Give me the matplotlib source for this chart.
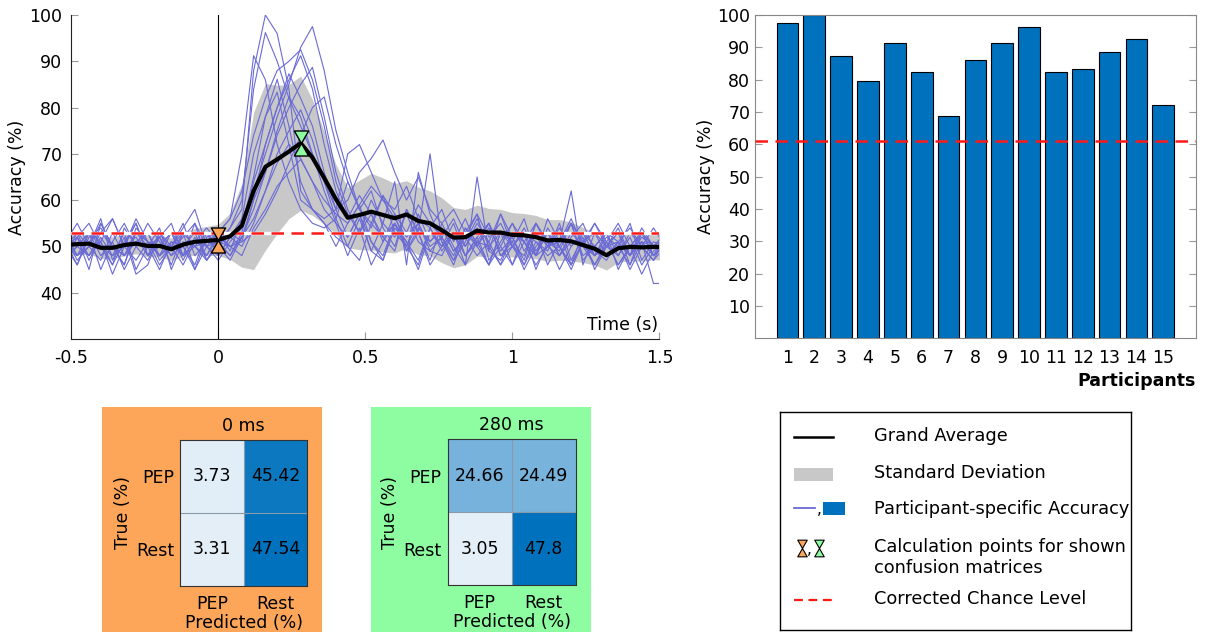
import matplotlib

matplotlib.use("Agg")

import matplotlib.pyplot as plt
import numpy as np
from matplotlib.colors import LinearSegmentedColormap
from matplotlib.patches import Rectangle
from matplotlib.path import Path


# time axis in ms (decoding windows every 40 ms)
TIME_MS = list(range(-520, 1521, 40))

GRAND_AVERAGE = [
    50.3, 50.5, 50.6, 49.7, 49.7, 50.3, 50.6, 50.1, 50.1, 49.4, 50.4, 51.0, 51.2,
    51.4, 52.2, 54.5, 62.0, 67.2, 68.8, 70.5, 72.3, 69.2, 64.8, 60.2, 56.2, 56.8,
    57.5, 56.8, 56.1, 56.9, 55.5, 55.0, 53.5, 51.9, 52.0, 53.4, 53.0, 53.0, 52.5,
    52.4, 52.0, 51.3, 51.4, 51.1, 50.3, 49.5, 48.1, 49.6, 49.9, 49.8, 49.9, 49.9,
]

STD_DEV = [
    2.4, 2.3, 2.2, 2.3, 2.4, 2.3, 2.2, 2.3, 2.4, 2.4, 2.6, 2.9, 3.1,
    3.4, 5.0, 9.0, 17.0, 18.0, 16.0, 14.5, 14.5, 12.5, 10.0, 7.5, 6.5, 7.5,
    8.3, 8.0, 7.5, 7.3, 7.3, 7.0, 7.0, 6.5, 6.0, 5.5, 5.2, 5.0, 4.8,
    4.7, 4.7, 4.5, 4.4, 4.2, 3.8, 3.5, 3.2, 3.0, 3.0, 3.0, 2.8, 2.8,
]

PARTICIPANT_CURVES = [
    [47, 52, 45, 55, 50, 46, 54, 51, 48, 53, 50, 45, 52, 53, 49, 56, 62, 70, 78, 85, 93, 97.5, 88, 75, 66, 58,
     62, 54, 50, 58, 53, 47, 55, 50, 46, 65, 49, 57, 52, 46, 51, 49, 55, 47, 52, 45, 50, 54, 48, 52, 50, 50],
    [51, 46, 53, 51, 44, 50, 55, 48, 52, 46, 53, 50, 47, 51, 54, 58, 88, 100, 96, 84, 62, 58, 55, 50, 55, 59,
     51, 47, 55, 50, 46, 54, 49, 53, 46, 51, 55, 48, 50, 53, 45, 51, 49, 55, 47, 50, 53, 48, 52, 46, 50, 52],
    [53, 48, 50, 56, 47, 52, 44, 46, 53, 49, 52, 55, 47, 50, 53, 51, 60, 72, 80, 87.3, 82, 76, 66, 58, 52, 57,
     49, 55, 64, 46, 66, 57, 51, 47, 54, 50, 46, 53, 51, 56, 48, 50, 53, 46, 51, 55, 50, 48, 53, 50, 47, 52],
    [47, 52, 55, 50, 48, 53, 45, 50, 52, 55, 48, 50, 53, 48, 52, 50, 55, 62, 70, 75, 79.5, 73, 64, 56, 50, 56,
     49, 47, 54, 51, 45, 53, 50, 55, 48, 52, 46, 53, 50, 48, 55, 51, 45, 50, 53, 48, 52, 50, 46, 53, 48, 50],
    [50, 53, 47, 52, 48, 50, 56, 51, 46, 50, 54, 58, 50, 53, 56, 70, 91.2, 86, 72, 64, 58, 55, 54, 56, 64, 58,
     54, 61, 53, 50, 57, 51, 54, 49, 52, 57, 47, 51, 55, 49, 53, 46, 51, 56, 50, 48, 53, 51, 45, 50, 54, 50],
    [48, 50, 53, 45, 51, 55, 50, 47, 52, 48, 53, 50, 51, 50, 47, 52, 58, 66, 75, 82.3, 78, 70, 62, 55, 48, 54,
     46, 51, 57, 49, 53, 70, 51, 46, 53, 50, 55, 48, 51, 45, 50, 53, 48, 52, 55, 49, 47, 51, 48, 53, 50, 48],
    [52, 48, 53, 50, 46, 51, 55, 48, 50, 53, 47, 52, 48, 53, 50, 48, 54, 58, 63, 66, 68.8, 64, 60, 57, 55, 59,
     63, 60, 56, 52, 55, 50, 52, 47, 51, 56, 50, 46, 53, 51, 48, 54, 50, 45, 51, 53, 48, 50, 55, 47, 51, 50],
    [50, 46, 52, 54, 50, 48, 53, 50, 45, 51, 48, 55, 50, 47, 51, 54, 65, 78, 86.1, 76, 64, 58, 55, 52, 50, 47,
     55, 52, 49, 58, 53, 46, 50, 53, 48, 52, 55, 50, 46, 53, 51, 48, 50, 55, 51, 46, 50, 53, 48, 51, 50, 53],
    [53, 50, 48, 51, 56, 50, 47, 51, 50, 53, 48, 51, 54, 51, 48, 53, 64, 72, 80, 86, 91.2, 84, 72, 62, 56, 61,
     57, 52, 55, 50, 55, 49, 48, 53, 50, 55, 51, 46, 50, 53, 48, 56, 51, 62, 46, 53, 50, 51, 48, 54, 50, 52],
    [47, 50, 53, 48, 51, 45, 50, 55, 51, 48, 50, 46, 53, 50, 54, 60, 84, 96.2, 90, 82, 76, 70, 64, 58, 70, 72,
     66, 60, 58, 63, 56, 54, 58, 51, 56, 50, 54, 49, 52, 47, 55, 51, 50, 46, 53, 50, 48, 51, 54, 50, 47, 50],
    [51, 55, 50, 47, 53, 48, 51, 50, 54, 45, 51, 50, 48, 52, 50, 51, 53, 57, 62, 68, 74, 80, 82.3, 72, 64, 58,
     55, 61, 57, 53, 59, 55, 52, 56, 50, 54, 49, 47, 53, 51, 46, 50, 54, 50, 53, 48, 51, 46, 50, 53, 48, 51],
    [50, 48, 51, 53, 56, 50, 52, 48, 53, 50, 46, 51, 50, 48, 52, 56, 70, 78, 83.3, 72, 60, 58, 56, 58, 60, 66,
     69, 73, 66, 60, 65, 58, 55, 58, 53, 57, 52, 55, 50, 54, 49, 53, 48, 51, 50, 55, 51, 46, 50, 53, 50, 48],
    [48, 53, 50, 51, 46, 54, 50, 53, 48, 51, 50, 53, 47, 51, 48, 52, 60, 66, 74, 80, 85, 88.7, 78, 66, 58, 53,
     57, 51, 55, 49, 54, 51, 54, 49, 52, 48, 51, 57, 50, 46, 53, 50, 51, 55, 48, 50, 53, 45, 50, 51, 48, 53],
    [52, 47, 50, 55, 50, 48, 51, 53, 47, 50, 55, 48, 51, 53, 56, 62, 74, 82, 88, 90, 92.5, 86, 76, 64, 57, 53,
     60, 55, 52, 57, 51, 49, 52, 48, 54, 51, 50, 53, 46, 51, 55, 50, 48, 53, 50, 46, 51, 55, 50, 44, 49, 51],
    [50, 52, 48, 53, 50, 46, 53, 51, 48, 50, 53, 45, 50, 51, 50, 52, 56, 62, 68, 72.1, 69, 64, 58, 55, 52, 57,
     51, 48, 55, 51, 47, 54, 50, 53, 48, 51, 46, 50, 55, 51, 48, 53, 50, 46, 51, 48, 50, 53, 46, 51, 42, 42],
]

CHANCE_TIME = 52.8
MARKER_TIMES_MS = [0, 280]

PARTICIPANTS = list(range(1, 16))
PEAK_ACCURACY = [97.5, 100, 87.3, 79.5, 91.2, 82.3, 68.8, 86.1, 91.2, 96.2, 82.3, 83.3, 88.7, 92.5, 72.1]
CHANCE_BARS = 61.0

CLASSES = ["PEP", "Rest"]
CM_0MS = [[3.73, 45.42], [3.31, 47.54]]
CM_280MS = [[24.66, 24.49], [3.05, 47.8]]

BLUE = "#0072bd"
LINE_BLUE = "#6a6ad6"
GRAY = "#c8c8c8"
RED = "#ff1a1a"
ORANGE = "#fda65a"
GREEN = "#8efca0"
FS = 12.5

HOURGLASS = Path(
    [(-0.57, 1), (0.57, 1), (0, 0), (0.57, -1), (-0.57, -1), (0, 0), (-0.57, 1)],
    [Path.MOVETO, Path.LINETO, Path.LINETO, Path.LINETO, Path.LINETO, Path.LINETO, Path.CLOSEPOLY],
)

plt.rcParams["font.family"] = ["DejaVu Sans"]

fig = plt.figure(figsize=(12.05, 6.32), dpi=100)

# ---------------- time course ----------------
time_s = np.array(TIME_MS) / 1000.0
mean = np.array(GRAND_AVERAGE)
sd = np.array(STD_DEV)

ax = fig.add_axes([0.0592, 0.4636, 0.488, 0.5127])
ax.fill_between(time_s, mean - sd, mean + sd, color=GRAY, lw=0, zorder=1)
for curve in PARTICIPANT_CURVES:
    ax.plot(time_s, curve, color=LINE_BLUE, lw=0.8, zorder=2)
ax.axvline(0, color="black", lw=0.8, zorder=2.5)
ax.axhline(CHANCE_TIME, color="white", lw=2.4, zorder=3)
ax.axhline(CHANCE_TIME, color=RED, lw=1.8, ls=(0, (5, 3)), zorder=3.1)
ax.plot(time_s, mean, color="black", lw=3, zorder=4)

for t_ms, colour in zip(MARKER_TIMES_MS, [ORANGE, GREEN]):
    idx = TIME_MS.index(t_ms)
    ax.plot(time_s[idx], mean[idx], marker=HOURGLASS, markersize=18,
            markerfacecolor=colour, markeredgecolor="black", markeredgewidth=1, zorder=5)

ax.set_xlim(-0.5, 1.5)
ax.set_ylim(30, 100)
ax.set_yticks(range(40, 101, 10))
ax.set_xticks([-0.5, 0, 0.5, 1, 1.5])
ax.set_xticklabels(["-0.5", "0", "0.5", "1", "1.5"])
for side in ("top", "right"):
    ax.spines[side].set_visible(False)
for side in ("left", "bottom"):
    ax.spines[side].set_color("#222222")
ax.tick_params(direction="in", length=5, color="#999999", labelsize=FS)
ax.tick_params(axis="y", pad=6.5)
ax.tick_params(axis="x", pad=7)
ax.set_ylabel("Accuracy (%)", fontsize=FS)
ax.yaxis.set_label_coords(-0.077, 0.5)
ax.text(0.998, 0.043, "Time (s)", transform=ax.transAxes, ha="right", va="center", fontsize=FS)

# ---------------- per participant peak accuracy ----------------
axb = fig.add_axes([0.6266, 0.4647, 0.3657, 0.5116])
axb.bar(PARTICIPANTS, PEAK_ACCURACY, width=0.81, color=BLUE, edgecolor="black", lw=0.8, zorder=2)
axb.axhline(CHANCE_BARS, color=RED, lw=1.8, ls=(0, (5, 3)), zorder=3)
axb.set_xlim(-0.21, 16.21)
axb.set_ylim(0, 100)
axb.set_yticks(range(10, 101, 10))
axb.set_xticks(PARTICIPANTS)
for spine in axb.spines.values():
    spine.set_color("#888888")
axb.tick_params(axis="y", direction="in", length=5, color="#999999", right=True, labelsize=FS, pad=3.5)
axb.tick_params(axis="x", length=0, labelsize=FS, pad=8)
axb.set_ylabel("Accuracy (%)", fontsize=FS)
axb.yaxis.set_label_coords(-0.091, 0.5)
axb.text(1.0, -0.131, "Participants", transform=axb.transAxes, ha="right", va="center",
         fontsize=FS, fontweight="bold")

# ---------------- confusion matrices ----------------
cm_cmap = LinearSegmentedColormap.from_list("cm", ["#e5eff8", BLUE])

for x0, colour in [(0.0849, ORANGE), (0.3079, GREEN)]:
    fig.add_artist(Rectangle((x0, 0), 0.1826, 0.3565, transform=fig.transFigure,
                             facecolor=colour, edgecolor="none", zorder=0))


def draw_matrix(axm, values, title):
    axm.imshow(values, cmap=cm_cmap, vmin=3.0, vmax=47.8, aspect="auto")
    for i, row in enumerate(values):
        for j, v in enumerate(row):
            axm.text(j, i, f"{v:g}", ha="center", va="center", fontsize=FS)
    axm.set_xticks([0, 1])
    axm.set_xticklabels(CLASSES)
    axm.set_yticks([0, 1])
    axm.set_yticklabels(CLASSES)
    axm.set_xticks([0.5], minor=True)
    axm.set_yticks([0.5], minor=True)
    axm.grid(which="minor", color="#8a9aaa", lw=0.8)
    axm.tick_params(which="both", length=0, labelsize=FS)
    axm.tick_params(axis="x", pad=6.5)
    axm.tick_params(axis="y", pad=4.3)
    for spine in axm.spines.values():
        spine.set_color("#333333")
    axm.set_title(title, fontsize=FS, pad=6.5)
    axm.set_xlabel("Predicted (%)", fontsize=FS)
    axm.xaxis.set_label_coords(0.5, -0.195)
    axm.set_ylabel("True (%)", fontsize=FS)
    axm.yaxis.set_label_coords(-0.379, 0.5)


draw_matrix(fig.add_axes([0.1494, 0.0733, 0.1056, 0.2305]), CM_0MS, "0 ms")
draw_matrix(fig.add_axes([0.3715, 0.0744, 0.1062, 0.2305]), CM_280MS, "280 ms")

# ---------------- legend ----------------
axl = fig.add_axes([780 / 1205, 2 / 632, 351 / 1205, 218 / 632])
axl.set_xlim(0, 351)
axl.set_ylim(218, 0)
axl.set_xticks([])
axl.set_yticks([])
for spine in axl.spines.values():
    spine.set_color("black")
    spine.set_linewidth(1)

axl.plot([14, 53], [24.5, 24.5], color="black", lw=1.8)
axl.add_patch(Rectangle((14, 55.5), 39, 13, facecolor=GRAY, edgecolor="none"))
axl.plot([14, 35], [96, 96], color=LINE_BLUE, lw=1.3)
axl.text(37, 97, ",", fontsize=11, va="center", ha="left")
axl.add_patch(Rectangle((43, 90), 22, 13, facecolor=BLUE, edgecolor="none"))
axl.plot([21.5], [136], marker=HOURGLASS, markersize=12, markerfacecolor=ORANGE,
         markeredgecolor="black", markeredgewidth=0.8)
axl.text(27, 138, ",", fontsize=11, va="center", ha="left")
axl.plot([38.5], [136], marker=HOURGLASS, markersize=12, markerfacecolor=GREEN,
         markeredgecolor="black", markeredgewidth=0.8)
axl.plot([14, 53], [188, 188], color=RED, lw=1.6, ls=(0, (4, 2.5)))

legend_texts = [
    (24, "Grand Average"),
    (61, "Standard Deviation"),
    (97, "Participant-specific Accuracy"),
    (134.7, "Calculation points for shown"),
    (156, "confusion matrices"),
    (187, "Corrected Chance Level"),
]
for y, label in legend_texts:
    axl.text(94.3, y, label, fontsize=12.8, va="center", ha="left")

fig.savefig("out.png", dpi=100)
